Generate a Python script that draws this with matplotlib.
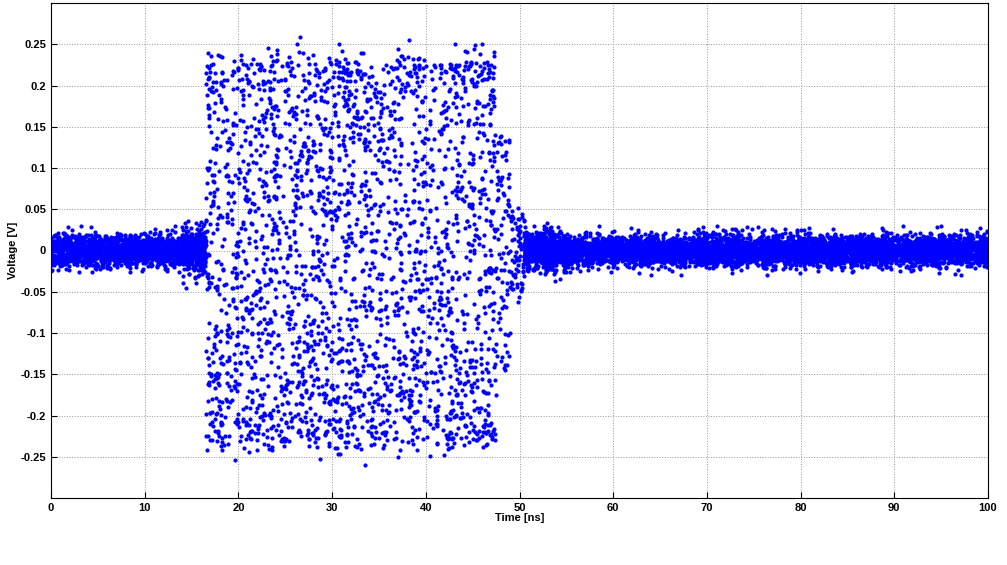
import numpy as np
import matplotlib
matplotlib.use("Agg")
import matplotlib.pyplot as plt

# Envelope (time breakpoints in ns, amplitude in V)
seg_start = [0.0, 14.0, 16.5, 47.5, 49.0, 50.5, 55.0]
seg_end   = [14.0, 16.5, 47.5, 49.0, 50.5, 55.0, 100.0]
seg_amp   = [0.02, 0.03, 0.23, 0.14, 0.05, 0.026, 0.02]
seg_kind  = ['noise', 'noise', 'burst', 'burst', 'burst', 'noise', 'noise']
seg_count = [1700, 400, 2600, 80, 70, 700, 5400]

rng = np.random.default_rng(3)
ts, vs = [], []
for a, b, amp, kind, n in zip(seg_start, seg_end, seg_amp, seg_kind, seg_count):
    t = rng.uniform(a, b, n)
    if kind == 'noise':
        v = np.clip(rng.normal(0, amp / 2.2, n), -amp * 1.5, amp * 1.5)
    else:
        m = n // 2
        v1 = amp * np.sin(rng.uniform(0, 2 * np.pi, m)) + rng.normal(0, 0.012, m)
        v2 = rng.uniform(-amp, amp, n - m)
        v = np.concatenate([v1, v2])
    ts.append(t); vs.append(v)
t = np.concatenate(ts); v = np.concatenate(vs)

plt.rcParams['font.family'] = ['Liberation Sans', 'DejaVu Sans']
fig = plt.figure(figsize=(10.07, 5.65), dpi=100)
ax = fig.add_axes([51/1007, 1-498/565, 937/1007, 495/565])
ax.plot(t, v, '.', color='#0000ff', markersize=4)
ax.set_xlim(0, 100)
ax.set_ylim(-0.3, 0.3)
ax.set_xticks(np.arange(0, 101, 10))
ax.set_yticks([-0.25, -0.2, -0.15, -0.1, -0.05, 0, 0.05, 0.1, 0.15, 0.2, 0.25])
ax.set_yticklabels(['-0.25', '-0.2', '-0.15', '-0.1', '-0.05', '0', '0.05', '0.1', '0.15', '0.2', '0.25'])
ax.grid(True, linestyle=':', color='#999999', linewidth=0.7)
ax.set_axisbelow(True)
for lab in ax.get_xticklabels() + ax.get_yticklabels():
    lab.set_fontweight('bold'); lab.set_fontsize(8)
ax.tick_params(direction='in', length=4)
ax.set_xlabel('Time [ns]', fontweight='bold', fontsize=8, labelpad=0)
ax.set_ylabel('Voltage [V]', fontweight='bold', fontsize=8, labelpad=2)
fig.savefig('out.png', dpi=100)
